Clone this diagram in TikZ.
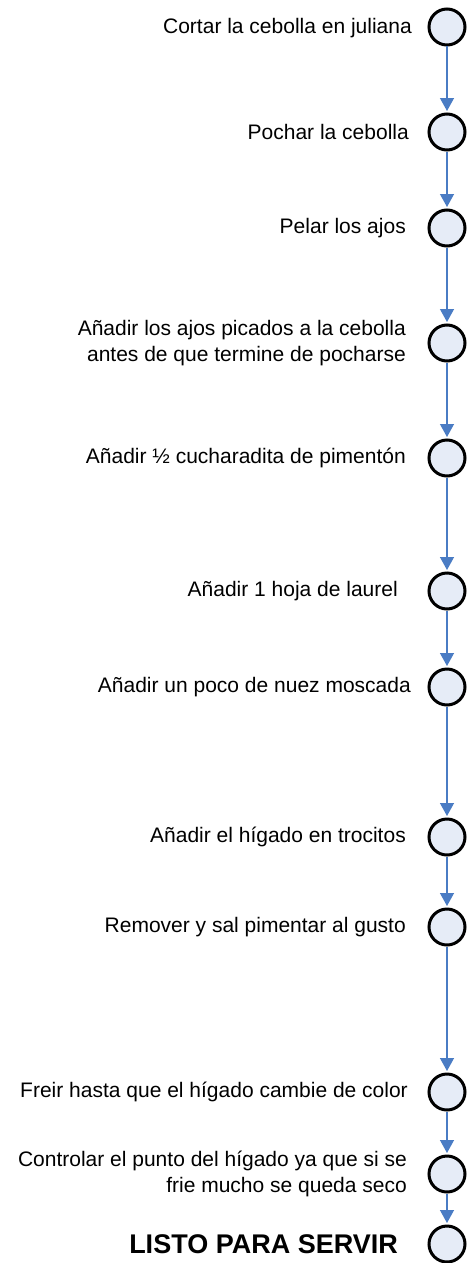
\documentclass[tikz,border=0pt]{standalone}
\usepackage{fontspec}
\setmainfont{Liberation Sans}
\usetikzlibrary{arrows.meta}
\definecolor{circfill}{HTML}{E6ECF7}
\definecolor{arrowblue}{HTML}{4A7CC4}
\tikzset{
  stepcircle/.style={circle, draw=black, line width=3pt, fill=circfill, minimum size=36pt, inner sep=0pt},
  steplabel/.style={anchor=east, align=right, text=black, font=\fontsize{21}{26}\selectfont, inner sep=0pt},
  finallabel/.style={anchor=east, align=right, text=black, font=\fontsize{27}{30}\selectfont\bfseries, inner sep=0pt},
  flow/.style={draw=arrowblue, line width=1.3pt, -{Triangle[width=14pt,length=13pt]}, shorten >=1.5pt}
}
\begin{document}
\begin{tikzpicture}[x=1pt,y=-1pt]
\useasboundingbox (0,0) rectangle (466,1263);
\node[stepcircle] (c1) at (447,27) {};
\node[stepcircle] (c2) at (447,132) {};
\node[stepcircle] (c3) at (447,228) {};
\node[stepcircle] (c4) at (447,343) {};
\node[stepcircle] (c5) at (447,458) {};
\node[stepcircle] (c6) at (447,591) {};
\node[stepcircle] (c7) at (447,687) {};
\node[stepcircle] (c8) at (447,837) {};
\node[stepcircle] (c9) at (447,927) {};
\node[stepcircle] (c10) at (447,1092) {};
\node[stepcircle] (c11) at (447,1174) {};
\node[stepcircle] (c12) at (447,1244) {};

\node[steplabel] (t1) at (412,28) {Cortar la cebolla en juliana};
\node[steplabel] (t2) at (409,132) {Pochar la cebolla};
\node[steplabel] (t3) at (406,228) {Pelar los ajos};
\node[steplabel] (t4) at (406,343) {Añadir los ajos picados a la cebolla\\antes de que termine de pocharse};
\node[steplabel] (t5) at (406,458) {Añadir ½ cucharadita de pimentón};
\node[steplabel] (t6) at (398,591) {Añadir 1 hoja de laurel};
\node[steplabel] (t7) at (411,687) {Añadir un poco de nuez moscada};
\node[steplabel] (t8) at (406,837) {Añadir el hígado en trocitos};
\node[steplabel] (t9) at (406,927) {Remover y sal pimentar al gusto};
\node[steplabel] (t10) at (408,1092) {Freir hasta que el hígado cambie de color};
\node[steplabel] (t11) at (407,1174) {Controlar el punto del hígado ya que si se\\frie mucho se queda seco};
\node[finallabel] (t12) at (398,1244) {LISTO PARA SERVIR};

\foreach \a/\b in {c1/c2,c2/c3,c3/c4,c4/c5,c5/c6,c6/c7,c7/c8,c8/c9,c9/c10,c10/c11,c11/c12}
  \draw[flow] (\a.south) -- (\b.north);
\end{tikzpicture}
\end{document}
